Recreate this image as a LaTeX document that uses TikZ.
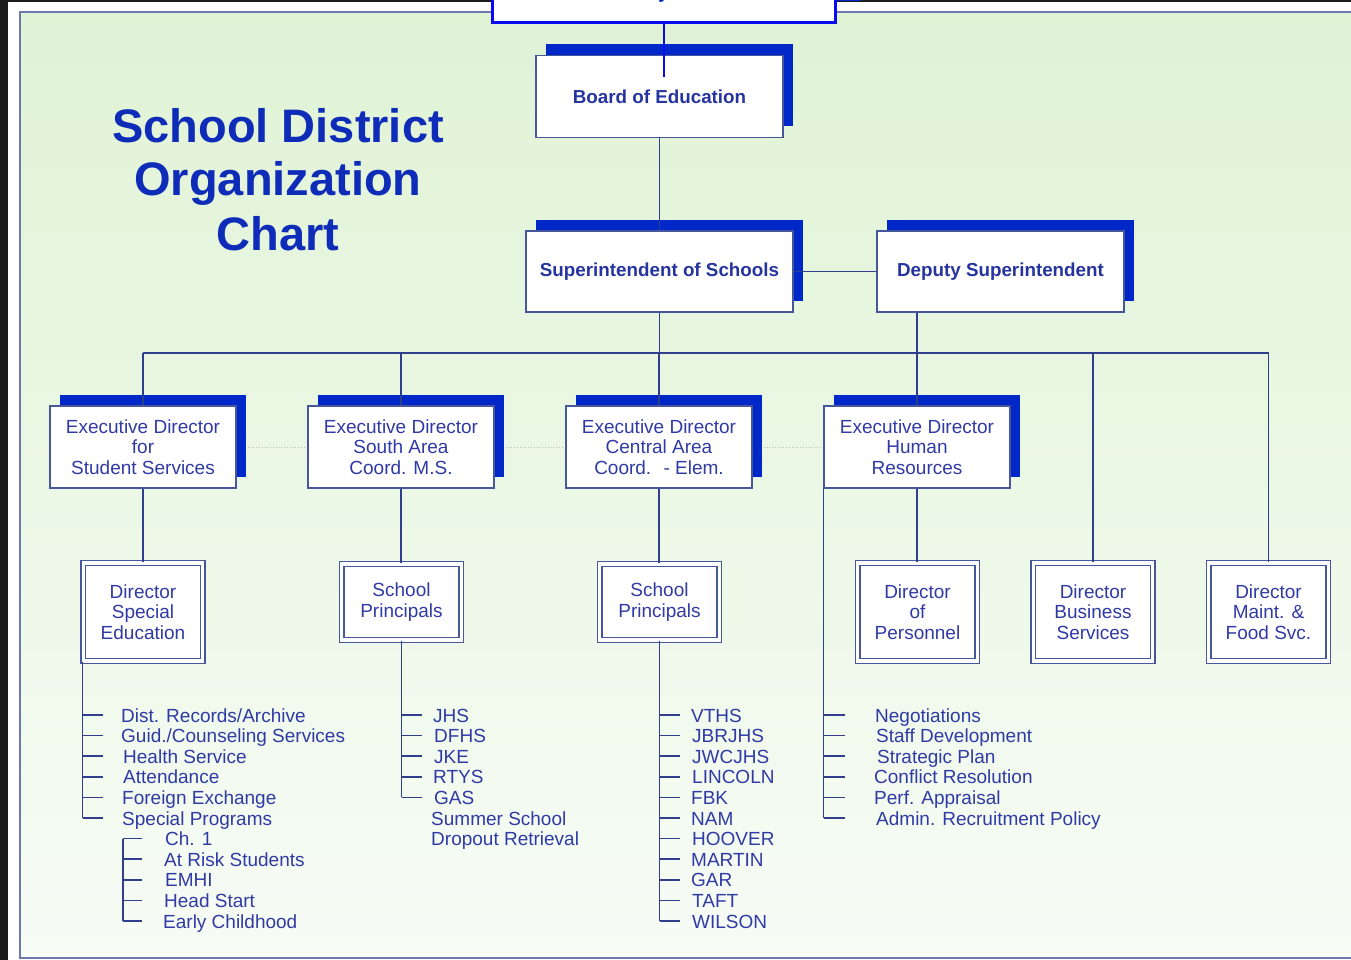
\documentclass[tikz,border=0pt]{standalone}
\usepackage{fontspec}
\setmainfont{Liberation Sans}
\usetikzlibrary{shadows}
\definecolor{txtblue}{RGB}{48,58,165}
\definecolor{bldblue}{RGB}{38,52,160}
\definecolor{ttlblue}{RGB}{14,44,184}
\definecolor{shblue}{RGB}{0,40,200}
\definecolor{lnblue}{RGB}{48,62,142}
\definecolor{bdblue}{RGB}{70,88,155}
\definecolor{topblue}{RGB}{10,10,240}
\definecolor{pgtop}{RGB}{224,243,213}
\definecolor{pgbot}{RGB}{247,252,246}
\definecolor{darkbg}{RGB}{28,28,28}
\definecolor{dotgray}{RGB}{185,190,185}
\newcommand\boxfnt{\fontsize{19}{20.4}\selectfont}
\newcommand\bldfnt{\fontsize{18.8}{20}\selectfont\bfseries}
\newcommand\ttlfnt{\fontsize{47}{53}\selectfont\bfseries}
\pgfdeclarelayer{bg}
\pgfdeclarelayer{mid}
\pgfsetlayers{bg,mid,main}
\tikzset{
  topbox/.style={draw=bdblue, line width=1.2pt, fill=white, inner sep=0pt,
    font=\bldfnt, text=bldblue, align=center,
    general shadow={fill=shblue, shadow xshift=10pt, shadow yshift=11.5pt}},
  execbox/.style={draw=bdblue, line width=1.2pt, fill=white, inner sep=0pt,
    font=\boxfnt, text=txtblue, align=center, minimum width=186, minimum height=82,
    general shadow={fill=shblue, shadow xshift=10pt, shadow yshift=11pt}},
  dirbox/.style={draw=bdblue, line width=1.3pt, double=white, double distance=3.4pt,
    fill=white, inner sep=0pt, font=\boxfnt, text=txtblue, align=center,
    minimum width=119.5},
  conn/.style={draw=lnblue, line width=1.5pt},
  dotline/.style={draw=dotgray, line width=0.8pt, dotted},
  litem/.style={anchor=base west, inner sep=0pt, font=\boxfnt, text=txtblue},
  ttl/.style={anchor=base, inner sep=0pt, font=\ttlfnt, text=ttlblue}
}
\begin{document}
\begin{tikzpicture}[x=1pt,y=-1pt]
\useasboundingbox (0,0) rectangle (1351,960);
\clip (0,0) rectangle (1351,960);
\begin{pgfonlayer}{bg}
  \fill[darkbg] (0,0) rectangle (1351,960);
  \fill[white] (8,2) rectangle (1360,960);
  \shade[top color=pgtop, bottom color=pgbot] (20,12) rectangle (1360,958);
  \draw[draw=bdblue!80, line width=1.3pt] (1360,958) -- (20,958) -- (20,12) -- (1360,12);
\end{pgfonlayer}

% title
\node[ttl] (t1) at (278,143) {School District};
\node[ttl] (t2) at (278,196) {Organization};
\node[ttl] (t3) at (278,250) {Chart};

% top (cut-off) box
\node[draw=topblue, line width=3pt, fill=white, minimum width=343, minimum height=50, inner sep=0pt,
      general shadow={fill=shblue, shadow xshift=26pt, shadow yshift=21pt}] (topb) at (663.5,-2.5) {};
\node[anchor=base, inner sep=0pt, font=\bldfnt, text=shblue] (topy) at (663.5,-1) {y};

% level 1-2
\node[topbox, minimum width=247, minimum height=82] (board) at (659.5,96.5) {Board of Education};
\node[topbox, minimum width=267, minimum height=81] (super) at (659.5,271.5) {Superintendent of Schools};
\node[topbox, minimum width=247, minimum height=81] (deputy) at (1000.5,271.5) {Deputy Superintendent};

% executive directors
\node[execbox] (exs) at (143,447) {Executive Director\\for\\Student Services};
\node[execbox] (exso) at (401,447) {Executive Director\\South Area\\Coord. M.S.};
\node[execbox] (exc) at (659,447) {Executive Director\\Central Area\\Coord. \ - Elem.};
\node[execbox] (exhr) at (917,447) {Executive Director\\Human\\Resources};

\begin{pgfonlayer}{mid}
  \draw[dotline] (exs.east) -- (exso.west);
  \draw[dotline] (exso.east) -- (exc.west);
  \draw[dotline] (exc.east) -- (exhr.west);
\end{pgfonlayer}

% directors
\node[dirbox, minimum height=98] (sped) at (143,612) {Director\\Special\\Education};
\node[dirbox, minimum height=76] (pso) at (401.5,602) {School\\Principals};
\node[dirbox, minimum height=76] (pc) at (659.5,602) {School\\Principals};
\node[dirbox, minimum height=98] (pers) at (917.5,612) {Director\\of\\Personnel};
\node[dirbox, minimum height=98] (bus) at (1093,612) {Director\\Business\\Services};
\node[dirbox, minimum height=98] (maint) at (1268.5,612) {Director\\Maint. \&\\Food Svc.};

% connectors
\coordinate (busL) at (143,353);
\coordinate (busR) at (1268.5,353);
\coordinate (boardin) at (663.5,77);
\draw[draw=topblue, line width=2pt] (topb.south) -- (boardin);
\draw[conn] (board.south) -- (super.north);
\draw[conn] (super.east) -- (deputy.west);
\draw[conn] (super.south) -- (super.south |- busL);
\draw[conn] (busL) -- (busR);
\draw[conn] (busL) -- (exs.north);
\draw[conn] (exso.north |- busL) -- (exso.north);
\draw[conn] (exc.north |- busL) -- (exc.north);
\draw[conn] (deputy.south -| exhr.north) -- (exhr.north);
\draw[conn] (bus.north |- busR) -- (bus.north);
\draw[conn] (busR) -- (maint.north);
\draw[conn] (exs.south) -- (sped.north);
\draw[conn] (exso.south) -- (exso.south |- pso.north);
\draw[conn] (exc.south) -- (exc.south |- pc.north);
\draw[conn] (exhr.south) -- (exhr.south |- pers.north);

% list rows
\coordinate (r0) at (0,715);
\coordinate (r4) at (0,797.4);
\coordinate (r5) at (0,818);
\coordinate (r6) at (0,838.6);
\coordinate (r10) at (0,921);

% student services list
\draw[conn] (sped.south west) -- (sped.south west |- r5);
\foreach \k in {0,...,5} \draw[conn] (83.2,715+20.6*\k) -- ++(20,0);
\node[litem] (s1) at (121,722) {Dist. Records/Archive};
\node[litem] (s2) at (121,742.6) {Guid./Counseling Services};
\node[litem] (s3) at (123,763.2) {Health Service};
\node[litem] (s4) at (123,783.8) {Attendance};
\node[litem] (s5) at (122,804.4) {Foreign Exchange};
\node[litem] (s6) at (122,825) {Special Programs};
\coordinate (subtop) at (123,838.6);
\draw[conn] (subtop) -- (subtop |- r10);
\foreach \k in {0,...,4} \draw[conn] (123,838.6+20.6*\k) -- ++(19,0);
\node[litem] (p1) at (165,845.6) {Ch. 1};
\node[litem] (p2) at (164,866.2) {At Risk Students};
\node[litem] (p3) at (165,886.8) {EMHI};
\node[litem] (p4) at (164,907.4) {Head Start};
\node[litem] (p5) at (163,928) {Early Childhood};

% south area list
\draw[conn] (pso.south) -- (pso.south |- r4);
\foreach \k in {0,...,4} \draw[conn] (401.5,715+20.6*\k) -- ++(20,0);
\node[litem] (so1) at (433,722) {JHS};
\node[litem] (so2) at (434,742.6) {DFHS};
\node[litem] (so3) at (434,763.2) {JKE};
\node[litem] (so4) at (433,783.8) {RTYS};
\node[litem] (so5) at (434,804.4) {GAS};
\node[litem] (so6) at (431,825) {Summer School};
\node[litem] (so7) at (431,845.6) {Dropout Retrieval};

% central area list
\draw[conn] (pc.south) -- (pc.south |- r10);
\foreach \k in {0,...,10} \draw[conn] (659.5,715+20.6*\k) -- ++(20,0);
\node[litem] (c1) at (691,722) {VTHS};
\node[litem] (c2) at (692,742.6) {JBRJHS};
\node[litem] (c3) at (692,763.2) {JWCJHS};
\node[litem] (c4) at (692,783.8) {LINCOLN};
\node[litem] (c5) at (691,804.4) {FBK};
\node[litem] (c6) at (691,825) {NAM};
\node[litem] (c7) at (692,845.6) {HOOVER};
\node[litem] (c8) at (691,866.2) {MARTIN};
\node[litem] (c9) at (691,886.8) {GAR};
\node[litem] (c10) at (692,907.4) {TAFT};
\node[litem] (c11) at (692,928) {WILSON};

% human resources list
\draw[conn] (exhr.south west) -- (exhr.south west |- r5);
\foreach \k in {0,...,5} \draw[conn] (824,715+20.6*\k) -- ++(21,0);
\node[litem] (h1) at (875,722) {Negotiations};
\node[litem] (h2) at (876,742.6) {Staff Development};
\node[litem] (h3) at (877,763.2) {Strategic Plan};
\node[litem] (h4) at (874,783.8) {Conflict Resolution};
\node[litem] (h5) at (874,804.4) {Perf. Appraisal};
\node[litem] (h6) at (876,825) {Admin. Recruitment Policy};
\end{tikzpicture}
\end{document}
